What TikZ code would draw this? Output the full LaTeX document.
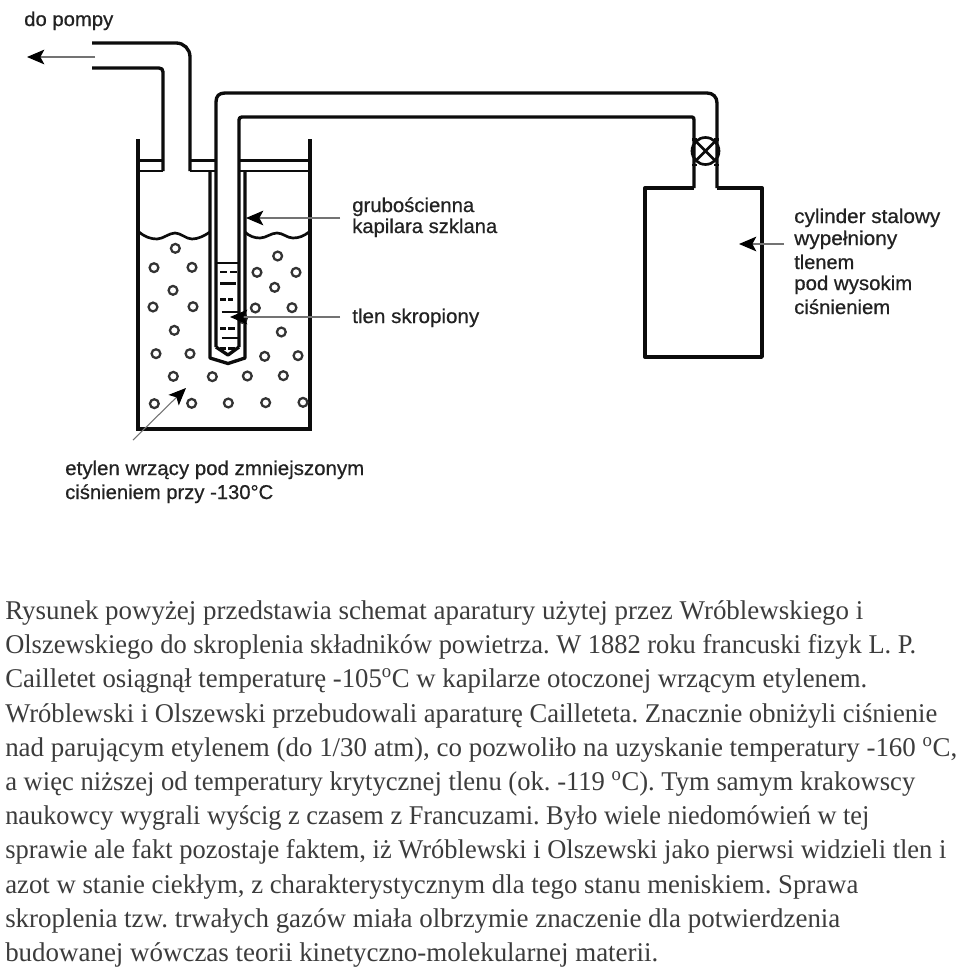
\documentclass[tikz,border=0pt]{standalone}
\usepackage{fontspec}
\usepackage{graphicx}
\setmainfont{Liberation Serif}
\newfontfamily\labfont[FakeBold=0.6]{Liberation Sans}
\usetikzlibrary{arrows.meta}
\definecolor{bodyc}{HTML}{3C3C3C}
\definecolor{labc}{HTML}{222222}
\definecolor{linec}{HTML}{0C0C0C}
\newcommand{\fitw}[2]{\resizebox{#1}{\height}{#2}}
\tikzset{
  x=0.75pt,y=-0.75pt,
  pipe/.style={draw=linec,line width=2.5pt,line join=round},
  wallb/.style={draw=linec,line width=3pt,line join=miter},
  thinl/.style={draw=linec,line width=2pt},
  bubble/.style={draw=black!80,line width=1.7pt,fill=white},
  dashl/.style={draw=linec,line width=2pt},
  ptr/.style={draw=black!55,line width=0.8pt,-{Stealth[length=13pt,width=11pt,inset=3pt,color=black,fill=black]}},
  lab/.style={anchor=base west,inner sep=0pt,text=labc,font=\labfont\fontsize{15pt}{15pt}\selectfont},
  body/.style={anchor=base west,inner sep=0pt,text=bodyc,font=\fontsize{20.3pt}{20.3pt}\selectfont\frenchspacing},
}
\begin{document}
\begin{tikzpicture}
\useasboundingbox (0,0) rectangle (960,968);
\fill[white] (0,0) rectangle (960,968);
% coordinates of the free ends of the pointers
\coordinate (p1s) at (95,57);   \coordinate (p1e) at (27,57);
\coordinate (p2s) at (340,218); \coordinate (p2e) at (246,218);
\coordinate (p3s) at (340,317); \coordinate (p3e) at (230,317);
\coordinate (p4s) at (133,440); \coordinate (p4e) at (186,388);
\coordinate (p5s) at (784,244); \coordinate (p5e) at (739,244);
% beaker
\draw[wallb] (138,139) -- (138,429) -- (310,429) -- (310,139);
\draw[thinl] (138,160.5) -- (163,160.5) (190,160.5) -- (216,160.5) (239,160.5) -- (310,160.5);
\draw[thinl] (138,171) -- (163,171) (190,171) -- (216,171) (239,171) -- (310,171);
% liquid surface
\draw[thinl] (139,232) .. controls (145,237) and (151,239) .. (157,239) .. controls (163,239) and (169,233) .. (175,233) .. controls (181,233) and (186,239) .. (192,239) .. controls (198,239) and (204,236) .. (210,232);
\draw[thinl] (245,232) .. controls (249,236) and (254,238) .. (260,238) .. controls (266,238) and (271,233) .. (277,233) .. controls (283,233) and (287,238) .. (293,238) .. controls (299,238) and (304,236) .. (309,232);
% bubbles
\foreach \zx/\zy in {166/55,102/113,216/112,473/78,411/127,528/127,159/181,464/172,99/231,219/230,406/234,516/233,163/301,484/306,108/371,210/371,434/379,534/377,160/439,277/440,382/438,490/437,103/521,215/520,325/519,437/518,549/517,367/265}
  \draw[bubble] ({120+\zx/3},{230+\zy/3}) circle (4.4);
% pump pipe
\draw[pipe] (92,43) -- (176,43) .. controls (184,43) and (190,49) .. (190,57) -- (190,171);
\draw[pipe] (92,68) -- (159,68) .. controls (161.5,68) and (163,69.5) .. (163,72) -- (163,171);
% capillary and oxygen pipe
\draw[pipe] (210,171) -- (210,358) -- (228,363.5) -- (245,358) -- (245,171);
\draw[pipe] (216,347) -- (228,355) -- (239,347);
\draw[pipe] (216,347) -- (216,102) .. controls (216,96) and (219,93) .. (225,93) -- (707,93) .. controls (713,93) and (717,97) .. (717,103) -- (717,188);
\draw[pipe] (239,347) -- (239,120) .. controls (239,118) and (240,117) .. (242,117) -- (692,117) .. controls (693.5,117) and (694,118) .. (694,120) -- (694,188);
% liquid oxygen
\draw[thinl] (216,263) -- (239,263);
\foreach \a/\b/\zy in {300/320/126,330/350/126,300/348/160,300/318/208,325/340/208,305/355/246,300/318/295,325/345/295,305/358/324,300/318/355,325/345/355}
  \draw[dashl] ({120+\a/3},{230+\zy/3}) -- ({120+\b/3},{230+\zy/3});
% valve
\draw[thinl] (705.5,151) circle (13.5);
\draw[thinl] (696,141.5) -- (715,160.5) (715,141.5) -- (696,160.5);
\draw[thinl] (692,139.5) -- (697,139.5) (714,139.5) -- (719,139.5) (692,165) -- (697,165) (714,165) -- (719,165);
% cylinder
\draw[pipe] (694,188) -- (645,188) -- (645,357) -- (762,357) -- (762,188) -- (717,188);
% pointers
\draw[ptr] (p1s) -- (p1e);
\draw[ptr] (p2s) -- (p2e);
\draw[ptr] (p3s) -- (p3e);
\draw[ptr] (p4s) -- (p4e);
\draw[ptr] (p5s) -- (p5e);
% labels
\node[lab] (l1) at (24,26) {\fitw{66.75pt}{do pompy}};
\node[lab] (l2) at (352,212) {\fitw{91.5pt}{grubościenna}};
\node[lab] (l3) at (352,233) {\fitw{108.75pt}{kapilara szklana}};
\node[lab] (l4) at (352,323) {\fitw{95.25pt}{tlen skropiony}};
\node[lab] (l5) at (794,223) {\fitw{109.5pt}{cylinder stalowy}};
\node[lab] (l6) at (794,245) {\fitw{77.25pt}{wypełniony}};
\node[lab] (l7) at (794,269) {\fitw{45pt}{tlenem}};
\node[lab] (l8) at (794,290) {\fitw{88.5pt}{pod wysokim}};
\node[lab] (l9) at (794,314) {\fitw{72pt}{ciśnieniem}};
\node[lab] (l10) at (65,475) {\fitw{224.25pt}{etylen wrzący pod zmniejszonym}};
\node[lab] (l11) at (65,499) {\fitw{156pt}{ciśnieniem przy -130°C}};
% body text
\node[body] (t1) at (5,619.5) {\fitw{643.5pt}{Rysunek powyżej przedstawia schemat aparatury użytej przez Wróblewskiego i}};
\node[body] (t2) at (5,653.7) {\fitw{683.25pt}{Olszewskiego do skroplenia składników powietrza. W 1882 roku francuski fizyk L. P.}};
\node[body] (t3) at (5,687.9) {\fitw{646.5pt}{Cailletet osiągnął temperaturę -105\textsuperscript{o}C w kapilarze otoczonej wrzącym etylenem.}};
\node[body] (t4) at (5,722.1) {\fitw{699pt}{Wróblewski i Olszewski przebudowali aparaturę Cailleteta. Znacznie obniżyli ciśnienie}};
\node[body] (t5) at (5,756.3) {\fitw{714pt}{nad parującym etylenem (do 1/30 atm), co pozwoliło na uzyskanie temperatury -160 \textsuperscript{o}C,}};
\node[body] (t6) at (5,790.5) {\fitw{682.5pt}{a więc niższej od temperatury krytycznej tlenu (ok. -119 \textsuperscript{o}C). Tym samym krakowscy}};
\node[body] (t7) at (5,824.7) {\fitw{648pt}{naukowcy wygrali wyścig z czasem z Francuzami. Było wiele niedomówień w tej}};
\node[body] (t8) at (5,858.9) {\fitw{705.75pt}{sprawie ale fakt pozostaje faktem, iż Wróblewski i Olszewski jako pierwsi widzieli tlen i}};
\node[body] (t9) at (5,893.1) {\fitw{639.75pt}{azot w stanie ciekłym, z charakterystycznym dla tego stanu meniskiem. Sprawa}};
\node[body] (t10) at (5,927.3) {\fitw{626.25pt}{skroplenia tzw. trwałych gazów miała olbrzymie znaczenie dla potwierdzenia}};
\node[body] (t11) at (5,961.5) {\fitw{489.75pt}{budowanej wówczas teorii kinetyczno-molekularnej materii.}};
\end{tikzpicture}
\end{document}
